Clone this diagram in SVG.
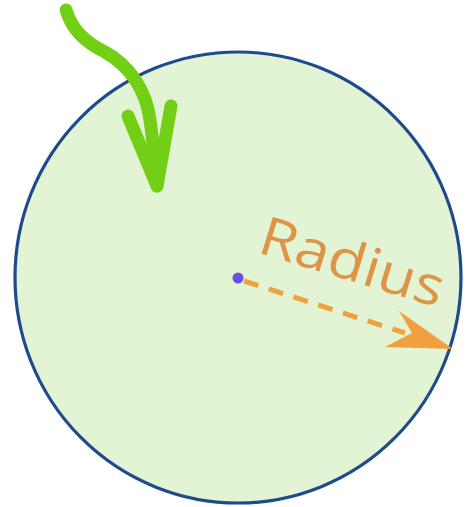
<svg xmlns="http://www.w3.org/2000/svg" width="466" height="507" viewBox="0 0 466 507">
<style>
.green{fill:none;stroke:#72cf16;stroke-width:13;stroke-linecap:round;stroke-linejoin:round}
.lbl{font-family:"Open Sans","DejaVu Sans",sans-serif;font-size:54px;fill:#de9446}
</style>
<rect width="466" height="507" fill="#ffffff"/>
<g id="circle">
<ellipse cx="238" cy="277.5" rx="223" ry="225.5" fill="#e2f4d3" stroke="#1f4b8e" stroke-width="3.2"/>
</g>
<g id="label">
<text class="lbl" transform="translate(256 252) rotate(17)" textLength="190" lengthAdjust="spacingAndGlyphs">Radius</text>
</g>
<g id="connectors">
<path class="green" d="M66 10 C72 30 85 42 105 52 C130 66 146 90 150 120 C154 150 156 170 157 186"/>
<path class="green" d="M128 116 L157 186 L171 106"/>
<line x1="244" y1="281" x2="405" y2="333" stroke="#f0a03f" stroke-width="5" stroke-dasharray="15 11"/>
<polygon points="453,349 399,311 412,333 385,347" fill="#f0a03f"/>
</g>
<g id="center">
<circle cx="238" cy="278" r="5.5" fill="#6b4ee6"/>
</g>
</svg>
